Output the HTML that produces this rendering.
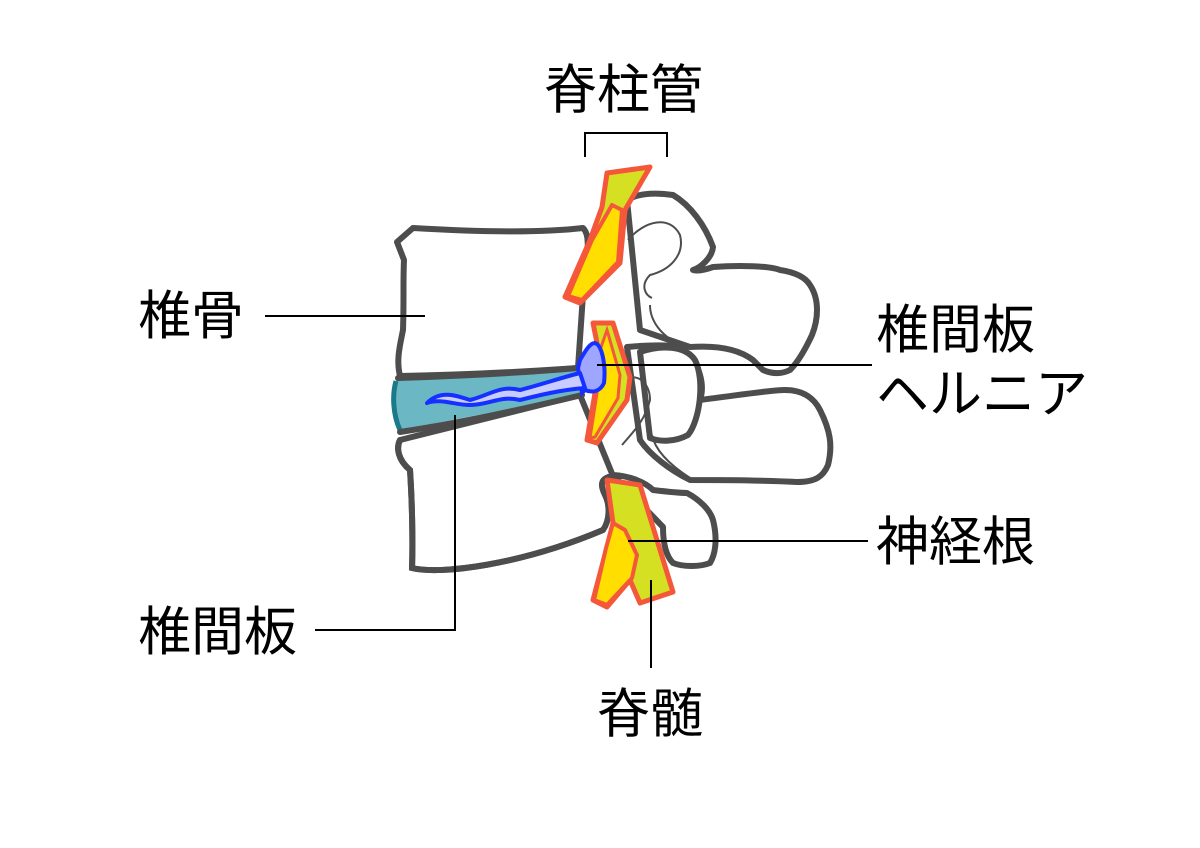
<!DOCTYPE html>
<html><head><meta charset="utf-8"><style>
html,body{margin:0;padding:0;background:#fff}
svg{display:block}
text{font-family:"Liberation Sans","Noto Sans CJK JP",sans-serif;font-size:53px;fill:#000}
</style></head><body>
<svg width="1200" height="848" viewBox="0 0 1200 848" xmlns="http://www.w3.org/2000/svg">
<rect width="1200" height="848" fill="#fff"/>
<g stroke="#4d4d4d" stroke-width="6" stroke-linejoin="round" stroke-linecap="round" fill="#fff">
<path d="M627,200 C640,192 660,193 673,195 C690,205 705,225 713,247 C712,258 700,268 693,270 C700,272 710,268 713,267 C740,265 770,266 780,270 C800,273 807,280 810,285 C820,300 818,320 812,335 C805,350 797,363 790,370 C780,375 770,373 763,370 L753,360 C740,350 720,345 690,347 L640,330 Z"/>
<path d="M627,347 C650,345 670,345 680,347 C700,360 705,385 700,400 C740,395 770,390 785,390 C805,390 815,400 820,410 C830,430 833,445 828,465 C823,477 815,482 797,482 C760,480 720,480 690,480 C670,470 650,455 640,440 Z"/>
<path d="M640,352 C660,345 685,345 695,360 C705,380 700,420 688,435 C675,442 660,442 650,438 Z"/>
<path d="M613,475 C630,476 645,482 653,490 C670,492 680,493 687,493 C700,500 710,510 713,520 C718,540 715,555 710,563 C700,567 683,567 673,563 C665,555 663,540 663,527 Z"/>
<path d="M397,242 L413,228 C480,232 540,233 583,228 C590,235 588,250 585,265 L578,368 C520,372 460,375 400,376 C396,360 400,345 403,330 C404,300 403,280 404,260 Z"/>
<path d="M400,440 C396,448 398,460 410,470 C412,500 413,540 412,568 C440,575 520,565 603,530 C610,520 610,505 605,495 C600,485 600,478 613,476 L580,395 Z"/>
</g>
<path d="M396,380 L578,368 L582,395 L400,430 C394,415 393,395 396,380 Z" fill="#6bb8c4" stroke="none"/>
<path d="M396,381 C392,395 393,415 400,430" fill="none" stroke="#1a7a8a" stroke-width="5"/>
<g stroke="#4d4d4d" stroke-width="6" fill="none" stroke-linecap="round">
<path d="M398,378 C460,376 520,373 578,368"/>
<path d="M400,432 C460,423 520,410 582,395"/>
<path d="M400,440 C396,448 398,460 410,470 C412,500 413,540 412,568 C440,575 520,565 603,530"/>
</g>
<g stroke="#4d4d4d" stroke-width="2" fill="none">
<path d="M628,240 C645,220 670,215 680,235 C685,255 670,270 650,275 C640,285 645,295 652,298"/>
<path d="M650,305 C650,320 660,335 680,345"/>
<path d="M630,378 C640,375 650,385 650,400 C645,420 635,430 622,445"/>
<path d="M652,435 C655,450 670,465 690,478"/>
</g>
<path d="M607,173 L650,167 L625,210 L620,263 L580,303 L565,297 L590,240 L602,207 Z" fill="#d4e021" stroke="#f5573a" stroke-width="5" stroke-linejoin="round"/>
<path d="M612,205 L622,210 L618,262 L582,300 L568,296 L592,240 Z" fill="#ffde00" stroke="#f5573a" stroke-width="4" stroke-linejoin="round"/>
<path d="M593,323 L613,323 L630,377 L627,400 L597,443 L587,440 L595,393 L597,343 Z" fill="#d4e021" stroke="#f5573a" stroke-width="5" stroke-linejoin="round"/>
<path d="M607,330 L620,375 L618,398 L595,437 L590,438 L597,393 L600,350 Z" fill="#ffde00" stroke="#f5573a" stroke-width="3"/>
<path d="M580,360 C586,350 590,343 595,343 C602,345 606,365 604,383 C600,392 592,393 585,390 L582,393 L578,368 Z" fill="#9ea6ff" stroke="#1530ff" stroke-width="4"/>
<path d="M427,403 C440,390 455,395 470,400 C490,395 500,385 520,390 C540,385 560,378 580,373 L585,388 C560,390 540,395 520,400 C500,395 490,405 470,405 C455,405 440,398 427,403 Z" fill="#c8ccff" stroke="#1530ff" stroke-width="4" stroke-linejoin="round"/>
<path d="M607,480 L640,485 L673,592 L640,603 L630,580 L607,607 L593,600 L607,547 L613,523 Z" fill="#d4e021" stroke="#f5573a" stroke-width="5" stroke-linejoin="round"/>
<path d="M613,523 L625,530 L637,555 L632,578 L607,605 L594,600 L606,548 Z" fill="#ffde00" stroke="#f5573a" stroke-width="4" stroke-linejoin="round"/>
<g stroke="#000" stroke-width="2" fill="none">
<path d="M585,157 V133 H667 V157"/>
<path d="M265,316 H425"/>
<path d="M597,365 H872"/>
<path d="M628,541 H868"/>
<path d="M315,630 H455 V415"/>
<path d="M651,580 V668"/>
</g>
<text x="544" y="108">脊柱管</text>
<text x="138" y="334">椎骨</text>
<text x="876" y="348">椎間板</text>
<text x="876" y="412">ヘルニア</text>
<text x="876" y="560">神経根</text>
<text x="138" y="650">椎間板</text>
<text x="597" y="732">脊髄</text>
</svg>
</body></html>
